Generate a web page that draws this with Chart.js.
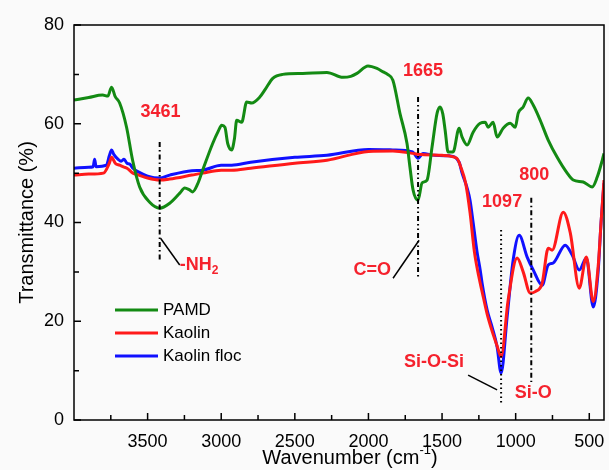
<!DOCTYPE html>
<html>
<head>
<meta charset="utf-8">
<script src="https://cdn.jsdelivr.net/npm/chart.js@4"></script>
<style>
  html, body { margin: 0; padding: 0; background: #fff; }
  #wrap { width: 609px; height: 470px; position: relative; background: #fafafa; }
</style>
</head>
<body>
<div id="wrap"><canvas id="ftir"></canvas></div>
<script>
// FTIR spectra, values (wavenumber cm-1, transmittance %)
const pamdWn = [4000, 3900, 3806, 3770, 3745, 3720, 3690, 3643, 3602, 3554, 3486, 3418, 3350, 3280, 3248, 3215, 3194, 3160, 3126, 3058, 3020, 2997, 2975, 2956, 2929, 2910, 2895, 2861, 2827, 2793, 2738, 2700, 2650, 2582, 2446, 2282, 2173, 2120, 2078, 2003, 1942, 1900, 1870, 1834, 1786, 1738, 1718, 1697, 1663, 1636, 1602, 1568, 1534, 1514, 1495, 1479, 1459, 1425, 1384, 1364, 1330, 1289, 1241, 1207, 1187, 1153, 1126, 1085, 1037, 1003, 983, 949, 915, 881, 833, 779, 718, 650, 609, 541, 480, 446, 412, 400];
const pamdT = [64.8, 65.3, 65.8, 65.6, 67.4, 65.5, 64.2, 59.3, 52.6, 47.2, 44.1, 42.9, 43.9, 46, 47, 46.6, 46.2, 47.8, 50.6, 56, 58.5, 59.7, 59.3, 56, 54.7, 57, 60.7, 60.3, 64.4, 64.2, 65.4, 67, 69.2, 70, 70.2, 70.4, 69.4, 69.6, 70.2, 71.7, 71.2, 70.5, 70, 68.8, 62.1, 56, 51.2, 46.6, 44.5, 48, 48.6, 55.3, 62.1, 63.4, 62, 58.7, 54.3, 54.3, 59.1, 57.3, 55.7, 58.3, 60.1, 60.3, 59.3, 60.3, 57.3, 59.1, 60.1, 59.3, 62.1, 63.4, 65.2, 63.8, 60.7, 56.7, 53.2, 50, 48.6, 48.2, 47.2, 49.2, 52.6, 54];

const kaolinWn = [4000, 3900, 3800, 3760, 3745, 3720, 3690, 3660, 3640, 3600, 3560, 3500, 3418, 3350, 3200, 3126, 3000, 2929, 2800, 2500, 2282, 2000, 1834, 1700, 1663, 1500, 1400, 1370, 1340, 1310, 1280, 1250, 1228, 1194, 1160, 1126, 1099, 1051, 990, 949, 901, 867, 820, 779, 752, 677, 629, 568, 520, 473, 440, 420, 400];
const kaolinT = [49.6, 49.8, 50, 52, 53.2, 52, 51.6, 51.2, 51, 50, 49.6, 49, 48.6, 48.8, 49.6, 50, 50.6, 50.6, 51, 52, 52.6, 54.4, 54.5, 54, 53.8, 53.6, 53, 51, 48, 42, 34, 29, 26, 21.5, 18, 15, 12.8, 24.3, 32.8, 30, 25.7, 26, 27.7, 34.8, 34.4, 42.1, 37.9, 26.7, 33, 24, 31, 40, 48.6];

const flocWn = [4000, 3900, 3870, 3860, 3850, 3780, 3760, 3745, 3730, 3700, 3680, 3660, 3640, 3620, 3600, 3560, 3500, 3418, 3350, 3200, 3126, 3000, 2929, 2800, 2500, 2282, 2000, 1834, 1700, 1663, 1630, 1550, 1450, 1384, 1364, 1330, 1310, 1289, 1262, 1241, 1228, 1194, 1160, 1126, 1099, 1058, 1017, 976, 922, 881, 820, 779, 745, 663, 616, 568, 520, 473, 440, 420, 400];
const flocT = [51, 51.2, 51.3, 52.8, 51.3, 51.6, 53.5, 54.7, 53.8, 52.8, 52.4, 52.8, 52, 51.8, 51, 50.2, 49.4, 49, 49.6, 50.5, 50.6, 51.6, 51.6, 52.2, 53.2, 53.6, 54.8, 54.7, 54.3, 53, 54, 53.6, 53.5, 52.2, 50, 47, 44.5, 40, 34, 30.4, 27.7, 22.3, 18.8, 14.8, 9.5, 20.9, 32.4, 37.4, 33, 30.4, 27.3, 31.4, 31.8, 35.4, 33.4, 30.4, 32.8, 22.9, 30, 40, 48];

const xTicks = [500, 1000, 1500, 2000, 2500, 3000, 3500];
const xMinor = [750, 1250, 1750, 2250, 2750, 3250, 3750];
const yTicks = [0, 20, 40, 60, 80];
const yMinor = [10, 30, 50, 70];

const toPoints = (wn, t) => wn.map((w, i) => ({ x: w, y: t[i] }));

const red = '#f5222d';

// peak labels, dash-dot marker lines and leader lines
const peakLabels = [
  { text: '3461', x: 3412, y: 62.3 },
  { text: '1665', x: 1630, y: 70.6 },
  { text: '1097', x: 1092, y: 44.1 },
  { text: '800', x: 874, y: 49.6 }
];
const markers = [
  { x: 3418, from: 56.3, to: 32, dash: [5, 3, 1.5, 3] },
  { x: 1663, from: 65.4, to: 29, dash: [5, 3, 1.5, 3, 1.5, 3] },
  { x: 1099, from: 38.5, to: 3.4, dash: [1.5, 3] },
  { x: 894, from: 45, to: 7.7, dash: [5, 3, 1.5, 3] }
];
const leaders = [
  [3412, 36.8, 3282, 31.4],
  [1656, 36.4, 1833, 28.7],
  [1323, 9.1, 1126, 6.1]
];

const annotate = {
  id: 'annotate',
  afterDatasetsDraw(chart) {
    const { ctx, chartArea: a, scales: { x, y } } = chart;
    ctx.save();

    // frame
    ctx.strokeStyle = '#000';
    ctx.lineWidth = 1.5;
    ctx.strokeRect(a.left, a.top, a.right - a.left, a.bottom - a.top);

    // inward ticks
    ctx.beginPath();
    xTicks.forEach(v => { const px = x.getPixelForValue(v); ctx.moveTo(px, a.bottom); ctx.lineTo(px, a.bottom - 7); });
    xMinor.forEach(v => { const px = x.getPixelForValue(v); ctx.moveTo(px, a.bottom); ctx.lineTo(px, a.bottom - 5); });
    yTicks.forEach(v => { const py = y.getPixelForValue(v); ctx.moveTo(a.left, py); ctx.lineTo(a.left + 7, py); });
    yMinor.forEach(v => { const py = y.getPixelForValue(v); ctx.moveTo(a.left, py); ctx.lineTo(a.left + 5, py); });
    ctx.stroke();

    // marker lines
    ctx.lineWidth = 2;
    markers.forEach(m => {
      ctx.setLineDash(m.dash);
      ctx.beginPath();
      ctx.moveTo(x.getPixelForValue(m.x), y.getPixelForValue(m.from));
      ctx.lineTo(x.getPixelForValue(m.x), y.getPixelForValue(m.to));
      ctx.stroke();
    });
    ctx.setLineDash([]);
    ctx.lineWidth = 1.5;
    leaders.forEach(l => {
      ctx.beginPath();
      ctx.moveTo(x.getPixelForValue(l[0]), y.getPixelForValue(l[1]));
      ctx.lineTo(x.getPixelForValue(l[2]), y.getPixelForValue(l[3]));
      ctx.stroke();
    });

    // labels
    ctx.fillStyle = red;
    ctx.font = 'bold 18px "Liberation Sans", Arial, sans-serif';
    ctx.textAlign = 'center';
    ctx.textBaseline = 'middle';
    peakLabels.forEach(p => ctx.fillText(p.text, x.getPixelForValue(p.x), y.getPixelForValue(p.y)));
    ctx.fillText('Si-O-Si', x.getPixelForValue(1554), y.getPixelForValue(11.7));
    ctx.fillText('Si-O', x.getPixelForValue(881), y.getPixelForValue(5.5));
    ctx.textAlign = 'right';
    ctx.fillText('C=O', x.getPixelForValue(1847), y.getPixelForValue(30.4));
    ctx.textAlign = 'left';
    let nx = x.getPixelForValue(3282);
    const ny = y.getPixelForValue(31.4);
    ctx.fillText('-NH', nx, ny);
    nx += ctx.measureText('-NH').width;
    ctx.font = 'bold 12px "Liberation Sans", Arial, sans-serif';
    ctx.fillText('2', nx, ny + 6);

    // legend
    ctx.font = '17px "Liberation Sans", Arial, sans-serif';
    ctx.fillStyle = '#000';
    ctx.lineWidth = 3;
    chart.data.datasets.forEach((ds, i) => {
      const ly = 310 + i * 23;
      ctx.strokeStyle = ds.borderColor;
      ctx.beginPath();
      ctx.moveTo(115, ly);
      ctx.lineTo(158, ly);
      ctx.stroke();
      ctx.fillText(ds.label, 163, ly);
    });

    // x axis title with superscript
    ctx.font = '20px "Liberation Sans", Arial, sans-serif';
    ctx.textAlign = 'left';
    ctx.textBaseline = 'alphabetic';
    const t1 = 'Wavenumber (cm';
    const w1 = ctx.measureText(t1).width;
    ctx.font = '13px "Liberation Sans", Arial, sans-serif';
    const w2 = ctx.measureText('-1').width;
    ctx.font = '20px "Liberation Sans", Arial, sans-serif';
    const w3 = ctx.measureText(')').width;
    let tx = 350 - (w1 + w2 + w3) / 2;
    const ty = 464;
    ctx.fillText(t1, tx, ty);
    tx += w1;
    ctx.font = '13px "Liberation Sans", Arial, sans-serif';
    ctx.fillText('-1', tx, ty - 10);
    tx += w2;
    ctx.font = '20px "Liberation Sans", Arial, sans-serif';
    ctx.fillText(')', tx, ty);

    ctx.restore();
  }
};

new Chart(document.getElementById('ftir'), {
  type: 'line',
  data: {
    datasets: [
      { label: 'PAMD', data: toPoints(pamdWn, pamdT), borderColor: '#138a13' },
      { label: 'Kaolin', data: toPoints(kaolinWn, kaolinT), borderColor: '#ff1a1a' },
      { label: 'Kaolin floc', data: toPoints(flocWn, flocT), borderColor: '#1010ff' }
    ]
  },
  options: {
    responsive: true,
    maintainAspectRatio: false,
    animation: false,
    devicePixelRatio: 1,
    layout: { padding: { top: 25, right: 5, left: 0, bottom: 0 } },
    elements: {
      point: { radius: 0 },
      line: { borderWidth: 3, tension: 0.3, cubicInterpolationMode: 'monotone' }
    },
    plugins: { legend: { display: false }, tooltip: { enabled: false } },
    scales: {
      x: {
        type: 'linear',
        reverse: true,
        min: 400,
        max: 4000,
        afterBuildTicks: s => { s.ticks = xTicks.map(v => ({ value: v })); },
        afterFit: s => { s.height = 50; },
        grid: { display: false, drawTicks: false },
        border: { display: false },
        ticks: { color: '#000', font: { size: 18, family: '"Liberation Sans", Arial' }, padding: 11, maxRotation: 0, autoSkip: false, callback: v => String(v) }
      },
      y: {
        min: 0,
        max: 80,
        afterBuildTicks: s => { s.ticks = yTicks.map(v => ({ value: v })); },
        afterFit: s => { s.width = 74; },
        grid: { display: false, drawTicks: false },
        border: { display: false },
        ticks: { color: '#000', font: { size: 18, family: '"Liberation Sans", Arial' }, padding: 10, callback: v => String(v) },
        title: { display: true, text: 'Transmittance (%)', color: '#000', font: { size: 20, family: '"Liberation Sans", Arial' }, padding: { top: 15 } }
      }
    }
  },
  plugins: [annotate]
});
</script>
</body>
</html>
